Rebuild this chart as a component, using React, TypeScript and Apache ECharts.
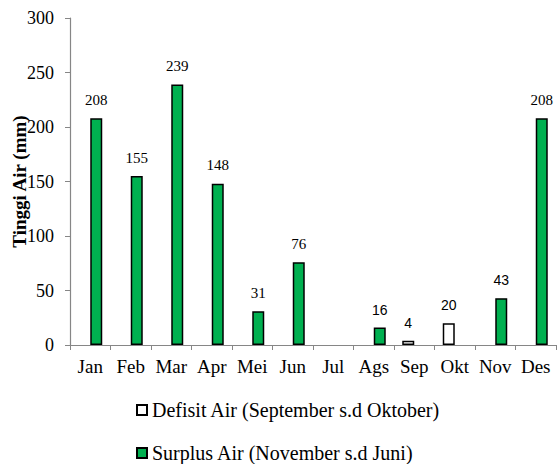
import React, { useEffect, useRef } from "react";
import * as echarts from "echarts";

const months = ["Jan", "Feb", "Mar", "Apr", "Mei", "Jun", "Jul", "Ags", "Sep", "Okt", "Nov", "Des"];
const surplus = [208, 155, 239, 148, 31, 76, null, 16, null, null, 43, 208];
const defisit = [null, null, null, null, null, null, null, null, 4, 20, null, null];
const sansLabelMonths = ["Ags", "Sep", "Okt", "Nov"];
const yTicks = [0, 50, 100, 150, 200, 250, 300];
const defisitName = "Defisit Air (September s.d Oktober)";
const surplusName = "Surplus Air (November s.d Juni)";

const serif = "'Liberation Serif', 'Times New Roman', serif";
const sans = "'Liberation Sans', Arial, sans-serif";

function mkData(vals: (number | null)[]) {
  return vals.map((v, i) => {
    if (v === null) return null;
    const isSans = sansLabelMonths.includes(months[i]);
    return {
      value: v,
      label: { fontFamily: isSans ? sans : serif, fontSize: isSans ? 14 : 15 },
    };
  });
}

export default function App() {
  const ref = useRef<HTMLDivElement>(null);
  useEffect(() => {
    const chart = echarts.init(ref.current!, null, { renderer: "svg" });
    const legendBase = {
      orient: "horizontal",
      left: 136,
      padding: 0,
      itemWidth: 10,
      itemHeight: 10,
      itemGap: 5,
      icon: "rect",
      textStyle: { fontFamily: serif, fontSize: 20, color: "#000", padding: [0, 0, 0, 0] },
    };
    chart.setOption({
      animation: false,
      grid: { left: 70, right: 2, top: 18, bottom: 119, containLabel: false, outerBoundsMode: "none" },
      legend: [
        { ...legendBase, top: 400, data: [defisitName] },
        { ...legendBase, top: 443, data: [surplusName] },
      ],
      xAxis: {
        type: "category",
        data: months,
        axisLine: { lineStyle: { color: "#868686", width: 1.2 } },
        axisTick: { show: true, alignWithLabel: false, length: 5, lineStyle: { color: "#868686" } },
        axisLabel: { fontFamily: serif, fontSize: 19, color: "#000", margin: 12, interval: 0 },
      },
      yAxis: {
        type: "value",
        min: yTicks[0],
        max: yTicks[yTicks.length - 1],
        interval: 50,
        name: "Tinggi Air (mm)",
        nameLocation: "middle",
        nameGap: 41,
        nameRotate: 90,
        nameMoveOverlap: false,
        nameTextStyle: { fontFamily: serif, fontSize: 19, fontWeight: "bold", color: "#000" },
        axisLine: { show: true, lineStyle: { color: "#868686", width: 1.2 } },
        axisTick: { show: true, length: 5, lineStyle: { color: "#868686" } },
        splitLine: { show: false },
        axisLabel: { fontFamily: serif, fontSize: 18, color: "#000", margin: 16 },
      },
      series: [
        {
          name: defisitName,
          type: "bar",
          data: mkData(defisit),
          barWidth: 12,
          barGap: "0%",
          itemStyle: { color: "#ffffff", borderColor: "#000", borderWidth: 1.5 },
          label: { show: true, position: "top", distance: 11, color: "#000" },
        },
        {
          name: surplusName,
          type: "bar",
          data: mkData(surplus),
          barWidth: 12,
          barGap: "0%",
          itemStyle: { color: "#00B050", borderColor: "#000", borderWidth: 1.5 },
          label: { show: true, position: "top", distance: 11, color: "#000" },
        },
      ],
    });
    return () => chart.dispose();
  }, []);
  return <div ref={ref} style={{ width: 558, height: 464, position: "absolute", left: 0, top: 0 }} />;
}
